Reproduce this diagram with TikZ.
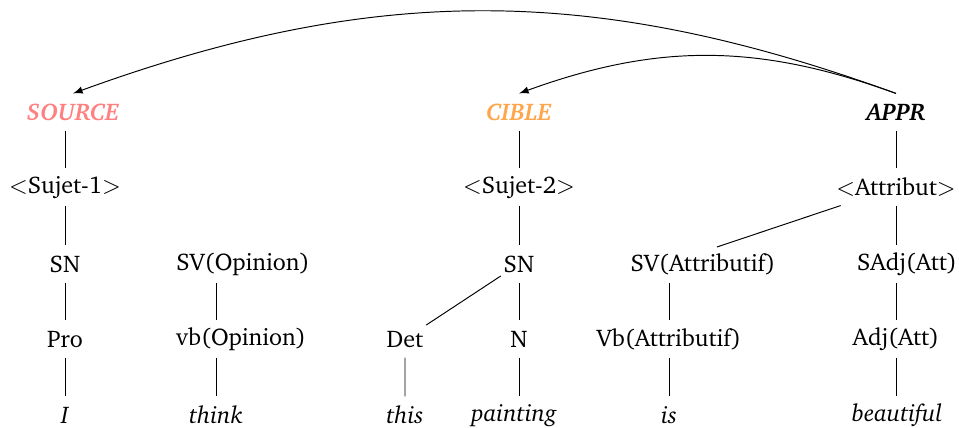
\documentclass[tikz,border=0pt]{standalone}
\usepackage[T1]{fontenc}
\usepackage{charter}
\usetikzlibrary{calc}

\begin{document}
\begin{tikzpicture}
[x=0.415pt,y=-0.415pt,>=latex, cat/.style={minimum height=15pt,inner sep=1pt}, word/.style={cat,font=\itshape}, role/.style={cat,font=\bfseries\itshape}]

\useasboundingbox (0,0) rectangle (959,428);

% the roles
\node[role,text=red!50] (source) at (73,112) {SOURCE};
\node[role,text=orange!70] (cible) at (519,112) {CIBLE};
\node[role] (appr) at (896,112) {APPR};

% the functions
\node[cat] (sujetA) at (65,187) {$<$Sujet-1$>$};
\node[cat] (sujetB) at (519,187) {$<$Sujet-2$>$};
\node[cat] (attribut) at (896,187) {$<$Attribut$>$};

% the phrases
\node[cat] (snA) at (65,264) {SN};
\node[cat] (svop) at (243,264) {SV(Opinion)};
\node[cat] (snB) at (519,264) {SN};
\node[cat] (svattr) at (703,264) {SV(Attributif)};
\node[cat] (sadj) at (907,264) {SAdj(Att)};

% the parts of speech
\node[cat] (pro) at (65,339) {Pro};
\node[cat] (vbop) at (241,339) {vb(Opinion)};
\node[cat] (det) at (405,339) {Det};
\node[cat] (nn) at (519,339) {N};
\node[cat] (vbattr) at (669,339) {Vb(Attributif)};
\node[cat] (adj) at (896,339) {Adj(Att)};

% the words
\node[word] (wI) at (65,415) {I};
\node[word] (wthink) at (216,415) {think};
\node[word] (wthis) at (405,415) {this};
\node[word] (wpainting) at (514,415) {painting};
\node[word] (wis) at (669,415) {is};
\node[word] (wbeautiful) at (897,415) {beautiful};

\coordinate (svattrtop) at (717,247);

% the branches
\draw (sujetA |- source.south) -- (sujetA) -- (snA) -- (pro) -- (wI);
\draw (wthink |- svop.south) -- (wthink |- vbop.north);
\draw (wthink |- vbop.south) -- (wthink);
\draw (cible) -- (sujetB) -- (snB) -- (nn) -- (nn |- wpainting.north);
\draw (snB) -- (det) -- (wthis);
\draw (appr) -- (attribut);
\draw (attribut) -- (svattrtop);
\draw (vbattr |- svattr.south) -- (vbattr) -- (wis);
\draw (attribut) -- (attribut |- sadj.north);
\draw (adj |- sadj.south) -- (adj) -- (adj |- wbeautiful.north);

% the arcs
\draw[->] (appr.north) to[bend right=20] (source.north);
\draw[->] (appr.north) to[bend right=20] (cible.north);

\end{tikzpicture}
\end{document}
